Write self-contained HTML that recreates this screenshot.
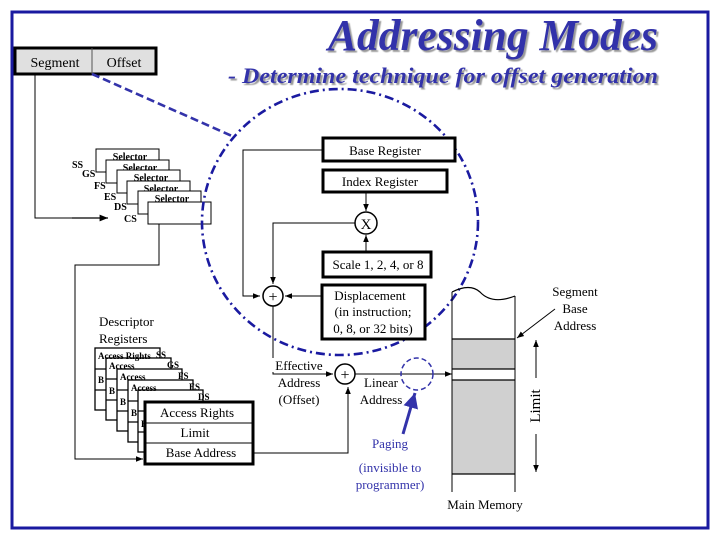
<!DOCTYPE html>
<html><head><meta charset="utf-8"><style>
html,body{margin:0;padding:0;background:#fff;}
svg{display:block;}
text{font-family:"Liberation Serif",serif;}
</style></head><body>
<svg width="720" height="540" viewBox="0 0 720 540" xmlns="http://www.w3.org/2000/svg">
<defs>
<marker id="a" viewBox="0 0 10 10" refX="10" refY="5" markerWidth="7" markerHeight="7" orient="auto"><path d="M0,1 L10,5 L0,9z" fill="#000"/></marker>
<marker id="b" viewBox="0 0 10 10" refX="10" refY="5" markerWidth="5" markerHeight="5" orient="auto"><path d="M0,0 L10,5 L0,10z" fill="#3333aa"/></marker>
<filter id="sh"><feDropShadow dx="2" dy="2" stdDeviation="0.6" flood-color="#999"/></filter>
</defs>
<rect x="12" y="12" width="696" height="516" fill="none" stroke="#1a1aa0" stroke-width="3"/>
<text x="658" y="50" text-anchor="end" font-size="44" font-weight="bold" font-style="italic" fill="#3333aa" filter="url(#sh)" textLength="330" lengthAdjust="spacingAndGlyphs">Addressing Modes</text>
<text x="658" y="83" text-anchor="end" font-size="22" font-weight="bold" font-style="italic" fill="#3333aa" filter="url(#sh)" textLength="430" lengthAdjust="spacingAndGlyphs">- Determine technique for offset generation</text>

<!-- segment/offset -->
<rect x="15" y="48" width="141" height="26" fill="#e0e0e0" stroke="#000" stroke-width="3"/>
<line x1="92" y1="48" x2="92" y2="74" stroke="#555" stroke-width="1"/>
<text x="55" y="67" text-anchor="middle" font-size="14">Segment</text>
<text x="124" y="67" text-anchor="middle" font-size="14">Offset</text>
<polyline points="35,74 35,218 72,218" fill="none" stroke="#000" stroke-width="1"/>
<line x1="72" y1="218" x2="108" y2="218" stroke="#000" stroke-width="1.2" marker-end="url(#a)"/>

<!-- selectors -->
<g font-size="10" font-weight="bold">
<rect x="96" y="149" width="63" height="23" fill="#fff" stroke="#000"/><text x="130" y="160" text-anchor="middle">Selector</text>
<rect x="106" y="160" width="63" height="23" fill="#fff" stroke="#000"/><text x="140" y="171" text-anchor="middle">Selector</text>
<rect x="117" y="170" width="63" height="23" fill="#fff" stroke="#000"/><text x="151" y="181" text-anchor="middle">Selector</text>
<rect x="127" y="181" width="63" height="23" fill="#fff" stroke="#000"/><text x="161" y="192" text-anchor="middle">Selector</text>
<rect x="138" y="191" width="63" height="23" fill="#fff" stroke="#000"/><text x="172" y="202" text-anchor="middle">Selector</text>
<rect x="148" y="202" width="63" height="22" fill="#fff" stroke="#000"/>
<text x="72" y="168">SS</text><text x="82" y="177">GS</text><text x="94" y="189">FS</text><text x="104" y="200">ES</text><text x="114" y="210">DS</text><text x="124" y="222">CS</text>
</g>
<polyline points="159,224 159,265 75,265 75,459 143,459" fill="none" stroke="#000" stroke-width="1" marker-end="url(#a)"/>

<!-- descriptor -->
<text x="99" y="326" font-size="13">Descriptor</text>
<text x="99" y="343" font-size="13">Registers</text>
<g font-size="9" font-weight="bold" stroke="#000" stroke-width="1.3">
<rect x="95" y="348" width="65" height="62" fill="#fff"/><line x1="95" y1="369" x2="160" y2="369"/><line x1="95" y1="390" x2="160" y2="390"/>
<rect x="106" y="358" width="65" height="62" fill="#fff"/><line x1="106" y1="379" x2="171" y2="379"/><line x1="106" y1="400" x2="171" y2="400"/>
<rect x="117" y="369" width="65" height="62" fill="#fff"/><line x1="117" y1="390" x2="182" y2="390"/><line x1="117" y1="411" x2="182" y2="411"/>
<rect x="128" y="380" width="65" height="62" fill="#fff"/><line x1="128" y1="401" x2="193" y2="401"/><line x1="128" y1="422" x2="193" y2="422"/>
<rect x="138" y="390" width="65" height="62" fill="#fff"/><line x1="138" y1="411" x2="203" y2="411"/><line x1="138" y1="432" x2="203" y2="432"/>
</g>
<g font-size="9" font-weight="bold">
<text x="156" y="358">SS</text><text x="167" y="368">GS</text><text x="178" y="379">FS</text><text x="189" y="390">ES</text><text x="198" y="400">DS</text>
<text x="98" y="359">Access Rights</text><text x="109" y="369">Access</text><text x="120" y="380">Access</text><text x="131" y="391">Access</text>
<text x="98" y="383">B</text><text x="109" y="394">B</text><text x="120" y="405">B</text><text x="131" y="416">B</text><text x="141" y="427">B</text>
</g>
<rect x="145" y="402" width="108" height="62" fill="#fff" stroke="#000" stroke-width="3"/>
<line x1="145" y1="423" x2="253" y2="423" stroke="#000"/><line x1="145" y1="443" x2="253" y2="443" stroke="#000"/>
<text x="197" y="417" text-anchor="middle" font-size="13">Access Rights</text>
<text x="195" y="437" text-anchor="middle" font-size="13">Limit</text>
<text x="201" y="457" text-anchor="middle" font-size="13">Base Address</text>
<polyline points="253,453 348,453 348,387" fill="none" stroke="#000" stroke-width="1" marker-end="url(#a)"/>

<!-- big dashed ellipse -->
<ellipse cx="340" cy="222" rx="138" ry="133" fill="none" stroke="#1a1aa0" stroke-width="2.6" stroke-dasharray="9,4,2,4"/>
<line x1="92" y1="74" x2="232" y2="136" stroke="#3333aa" stroke-width="2.6" stroke-dasharray="8,4"/>

<!-- registers -->
<rect x="323" y="138" width="132" height="23" fill="#fff" stroke="#000" stroke-width="3"/>
<text x="385" y="155" text-anchor="middle" font-size="13">Base Register</text>
<rect x="323" y="170" width="124" height="22" fill="#fff" stroke="#000" stroke-width="3"/>
<text x="380" y="186" text-anchor="middle" font-size="13">Index Register</text>
<polyline points="323,150 243,150 243,296 260,296" fill="none" stroke="#000" stroke-width="1" marker-end="url(#a)"/>
<line x1="366" y1="192" x2="366" y2="211" stroke="#000" marker-end="url(#a)"/>
<circle cx="366" cy="223" r="11" fill="#fff" stroke="#000" stroke-width="1.5"/>
<text x="366" y="229" text-anchor="middle" font-size="15">X</text>
<rect x="323" y="252" width="108" height="25" fill="#fff" stroke="#000" stroke-width="3"/>
<text x="378" y="269" text-anchor="middle" font-size="13">Scale 1, 2, 4, or 8</text>
<line x1="366" y1="252" x2="366" y2="235" stroke="#000" marker-end="url(#a)"/>
<polyline points="355,223 273,223 273,284" fill="none" stroke="#000" stroke-width="1" marker-end="url(#a)"/>
<circle cx="273" cy="296" r="10" fill="#fff" stroke="#000" stroke-width="1.5"/>
<text x="273" y="302" text-anchor="middle" font-size="16">+</text>
<rect x="322" y="285" width="103" height="54" fill="#fff" stroke="#000" stroke-width="3"/>
<text x="370" y="300" text-anchor="middle" font-size="13">Displacement</text>
<text x="373" y="316" text-anchor="middle" font-size="13">(in instruction;</text>
<text x="373" y="333" text-anchor="middle" font-size="13">0, 8, or 32 bits)</text>
<line x1="322" y1="296" x2="285" y2="296" stroke="#000" marker-end="url(#a)"/>
<polyline points="273,306 273,374 333,374" fill="none" stroke="#000" stroke-width="1" marker-end="url(#a)"/>
<rect x="272" y="358" width="54" height="14" fill="#fff"/>
<text x="299" y="370" text-anchor="middle" font-size="13">Effective</text>
<text x="299" y="387" text-anchor="middle" font-size="13">Address</text>
<text x="299" y="404" text-anchor="middle" font-size="13">(Offset)</text>
<circle cx="345" cy="374" r="10" fill="#fff" stroke="#000" stroke-width="1.5"/>
<text x="345" y="380" text-anchor="middle" font-size="16">+</text>
<line x1="355" y1="374" x2="452" y2="374" stroke="#000" marker-end="url(#a)"/>
<text x="381" y="387" text-anchor="middle" font-size="13">Linear</text>
<text x="381" y="404" text-anchor="middle" font-size="13">Address</text>
<circle cx="417" cy="374" r="16" fill="none" stroke="#3333aa" stroke-width="1.5" stroke-dasharray="5,3"/>
<line x1="403" y1="434" x2="415" y2="393" stroke="#3333aa" stroke-width="3" marker-end="url(#b)"/>
<text x="390" y="448" text-anchor="middle" font-size="13" fill="#3333aa">Paging</text>
<text x="390" y="472" text-anchor="middle" font-size="13" fill="#3333aa">(invisible to</text>
<text x="390" y="489" text-anchor="middle" font-size="13" fill="#3333aa">programmer)</text>

<!-- memory -->
<rect x="452" y="339" width="63" height="135" fill="#d0d0d0"/>
<rect x="452" y="369" width="63" height="11" fill="#fff"/>
<path d="M452,292 Q470,283 480,292 Q492,305 515,296" fill="none" stroke="#000" stroke-width="1.2"/>
<line x1="452" y1="292" x2="452" y2="492" stroke="#000"/>
<line x1="515" y1="296" x2="515" y2="492" stroke="#000"/>
<g stroke="#000" stroke-width="1.3"><line x1="452" y1="339" x2="515" y2="339"/><line x1="452" y1="369" x2="515" y2="369"/><line x1="452" y1="380" x2="515" y2="380"/><line x1="452" y1="474" x2="515" y2="474"/></g>
<text x="485" y="509" text-anchor="middle" font-size="13">Main Memory</text>
<line x1="536" y1="378" x2="536" y2="340" stroke="#000" marker-end="url(#a)"/>
<line x1="536" y1="434" x2="536" y2="472" stroke="#000" marker-end="url(#a)"/>
<text transform="translate(540,406) rotate(-90)" text-anchor="middle" font-size="15">Limit</text>
<text x="575" y="296" text-anchor="middle" font-size="13">Segment</text>
<text x="575" y="313" text-anchor="middle" font-size="13">Base</text>
<text x="575" y="330" text-anchor="middle" font-size="13">Address</text>
<line x1="555" y1="309" x2="517" y2="338" stroke="#000" marker-end="url(#a)"/>
</svg>
</body></html>
